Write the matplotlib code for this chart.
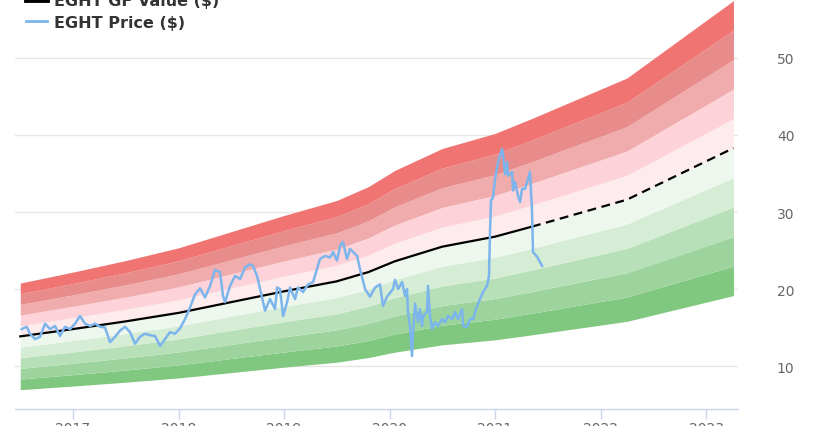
import matplotlib
matplotlib.use("Agg")
import matplotlib.pyplot as plt
import numpy as np

# GF Value nodes (decimal year, $)
gf_year = [2016.50, 2017.0, 2017.5, 2018.0, 2018.5, 2019.0, 2019.5, 2019.8, 2020.05,
           2020.5, 2021.0, 2021.35, 2022.25, 2023.26]
gf_value = [13.85, 14.8, 15.8, 16.9, 18.3, 19.7, 21.0, 22.2, 23.6,
            25.5, 26.8, 28.1, 31.6, 38.3]
gf_last_actual = 2021.35  # solid up to here, dashed (estimate) after

# price (decimal year, $)
price_year = [2016.514, 2016.561, 2016.592, 2016.640, 2016.687, 2016.735, 2016.782, 2016.829,
              2016.877, 2016.924, 2016.972, 2017.019, 2017.066, 2017.114, 2017.161, 2017.209,
              2017.256, 2017.303, 2017.351, 2017.398, 2017.446, 2017.493, 2017.540, 2017.588,
              2017.635, 2017.682, 2017.730, 2017.777, 2017.825, 2017.872, 2017.919, 2017.967,
              2018.014, 2018.062, 2018.109, 2018.156, 2018.204, 2018.251, 2018.299, 2018.346,
              2018.393, 2018.422, 2018.441, 2018.488, 2018.536, 2018.583, 2018.630, 2018.678,
              2018.706, 2018.744, 2018.773, 2018.820, 2018.867, 2018.915, 2018.934, 2018.962,
              2018.991, 2019.029, 2019.057, 2019.104, 2019.133, 2019.180, 2019.228, 2019.275,
              2019.313, 2019.341, 2019.389, 2019.436, 2019.465, 2019.502, 2019.531, 2019.559,
              2019.597, 2019.626, 2019.692, 2019.720, 2019.768, 2019.815, 2019.863, 2019.910,
              2019.938, 2019.976, 2020.033, 2020.052, 2020.081, 2020.119, 2020.147, 2020.166,
              2020.175, 2020.194, 2020.213, 2020.223, 2020.242, 2020.261, 2020.270, 2020.289,
              2020.308, 2020.318, 2020.355, 2020.365, 2020.384, 2020.403, 2020.431, 2020.460,
              2020.498, 2020.526, 2020.555, 2020.593, 2020.621, 2020.649, 2020.687, 2020.697,
              2020.735, 2020.763, 2020.792, 2020.830, 2020.858, 2020.886, 2020.924, 2020.943,
              2020.953, 2020.962, 2020.981, 2021.000, 2021.029, 2021.067, 2021.076, 2021.095,
              2021.114, 2021.123, 2021.161, 2021.171, 2021.190, 2021.218, 2021.237, 2021.256,
              2021.284, 2021.313, 2021.332, 2021.351, 2021.360, 2021.398, 2021.446]
price = [14.8, 15.1, 14.2, 13.5, 13.8, 15.5, 14.8, 15.2,
         13.9, 15.1, 14.8, 15.5, 16.5, 15.5, 15.2, 15.5,
         15.1, 15.0, 13.1, 13.8, 14.6, 15.1, 14.4, 12.9,
         13.8, 14.2, 14.0, 13.9, 12.6, 13.5, 14.4, 14.2,
         14.9, 16.1, 17.6, 19.3, 20.1, 18.9, 20.4, 22.5,
         22.2, 19.1, 18.3, 20.4, 21.7, 21.3, 22.8, 23.2,
         23.0, 21.7, 20.0, 17.2, 18.7, 17.4, 20.2, 20.0,
         16.5, 18.3, 20.2, 18.7, 20.2, 19.6, 20.6, 20.9,
         22.6, 23.9, 24.3, 24.1, 24.8, 23.7, 25.6, 26.1,
         23.9, 25.2, 24.3, 22.6, 20.0, 19.0, 20.2, 20.6,
         17.8, 19.0, 20.0, 21.2, 20.0, 20.9, 19.1, 20.0,
         17.0, 15.2, 11.3, 14.4, 18.1, 16.5, 15.7, 17.4,
         15.2, 16.5, 17.0, 20.4, 16.5, 14.8, 15.7, 15.2,
         16.1, 15.7, 16.5, 16.1, 17.0, 16.1, 17.4, 15.2,
         15.1, 16.1, 16.1, 17.8, 18.7, 19.6, 20.4, 21.7,
         27.8, 31.5, 31.9, 34.3, 36.5, 38.2, 37.3, 34.9,
         36.5, 34.7, 35.2, 32.8, 33.9, 32.1, 31.3, 33.0,
         33.0, 34.3, 35.2, 30.0, 24.8, 24.2, 23.0]

# band multipliers of GF value and colours (bottom to top)
band_edges = [0.5, 0.6, 0.7, 0.8, 0.9, 1.0, 1.1, 1.2, 1.3, 1.4, 1.5]
band_colors = ['#80c880', '#9dd49d', '#b8e0b8', '#d5ecd5', '#eef7ee',
               '#feebee', '#fdd2d8', '#f0acac', '#e78b8b', '#f07472']

year_ticks = [2017, 2018, 2019, 2020, 2021, 2022, 2023]
value_ticks = [10, 20, 30, 40, 50]

fig = plt.figure(figsize=(8.2, 4.27), dpi=100)
ax = fig.add_axes([15 / 820, 17 / 427, 723 / 820, 410 / 427])

gy = np.array(gf_year)
gv = np.array(gf_value)
for i, c in enumerate(band_colors):
    ax.fill_between(gy, gv * band_edges[i], gv * band_edges[i + 1],
                    color=c, linewidth=0, zorder=1)

solid = gy <= gf_last_actual + 1e-9
ax.plot(gy[solid], gv[solid], color='black', lw=1.6, zorder=3)
dashed = gy >= gf_last_actual - 1e-9
ax.plot(gy[dashed], gv[dashed], color='black', lw=1.6, dashes=(4, 2.5), zorder=3)
ax.plot(price_year, price, color='#7cb5ec', lw=1.8, zorder=4)

ax.set_xlim(2016.450, 2023.303)
ax.set_ylim(4.42, 57.66)

ax.set_yticks(value_ticks)
ax.yaxis.tick_right()
ax.tick_params(axis='y', length=0, pad=28, labelsize=10, labelcolor='#666666')
ax.yaxis.grid(True, color='#e6e6e6', lw=1)
ax.set_axisbelow(True)

ax.set_xticks(year_ticks)
ax.set_xticklabels([str(y) for y in year_ticks])
ax.tick_params(axis='x', length=7, width=1, color='#ccd6eb', pad=2,
               labelsize=10, labelcolor='#666666')

for s in ['top', 'left', 'right']:
    ax.spines[s].set_visible(False)
ax.spines['bottom'].set_color('#ccd6eb')
ax.spines['bottom'].set_linewidth(1)

h1, = ax.plot([], [], color='black', lw=3.5)
h2, = ax.plot([], [], color='#7cb5ec', lw=2)
leg = fig.legend([h1, h2], ['EGHT GF Value ($)', 'EGHT Price ($)'],
                 loc='lower left', bbox_to_anchor=(26 / 820, 1 - 31 / 427),
                 frameon=False, borderpad=0, borderaxespad=0,
                 handlelength=1.3, handletextpad=0.45, labelspacing=0.42,
                 prop={'weight': 'bold', 'size': 11.5})
for t in leg.get_texts():
    t.set_color('#333333')

fig.savefig('out.png', dpi=100)
